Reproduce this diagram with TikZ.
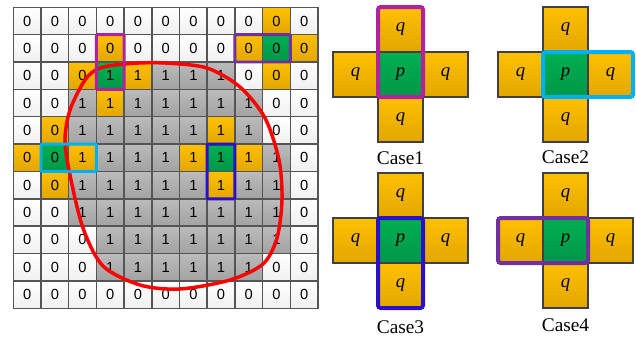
\documentclass[tikz,border=0pt]{standalone}
\usepackage{fontspec}
\setmainfont{Liberation Serif}
\newfontfamily\gridfont{Liberation Sans}
\definecolor{topw}{HTML}{FFFFFF}
\definecolor{botw}{HTML}{F0F0F0}
\definecolor{topg}{HTML}{BBBBBB}
\definecolor{botg}{HTML}{A2A2A2}
\definecolor{topo}{HTML}{FFC000}
\definecolor{boto}{HTML}{E2A600}
\definecolor{topn}{HTML}{00B050}
\definecolor{botn}{HTML}{00964A}
\definecolor{gridline}{HTML}{555555}
\definecolor{edge}{HTML}{404040}
\definecolor{casepink}{HTML}{B0229E}
\definecolor{casecyan}{HTML}{00B0F0}
\definecolor{caseblue}{HTML}{2A10C8}
\definecolor{casepurple}{HTML}{7030A0}
\definecolor{curve}{HTML}{FF0000}

% one cross of five cells: #1 name prefix, (#2,#3) centre of the p cell
\newcommand\crossat[3]{%
  \node (#1p) [crosscell, top color=topn, bottom color=botn] at (#2,#3) {p};
  \node (#1t) [crosscell] at ({#2},{#3-45}) {q};
  \node (#1b) [crosscell] at ({#2},{#3+45}) {q};
  \node (#1l) [crosscell] at ({#2-45},{#3}) {q};
  \node (#1r) [crosscell] at ({#2+45},{#3}) {q};
}

\begin{document}
\begin{tikzpicture}[x=0.75pt,y=-0.75pt,
  cell/.style={inner sep=0, outer sep=0, minimum width=20.78pt, minimum height=20.52pt,
    draw=gridline, line width=1.1pt, font=\gridfont\fontsize{11}{11}\selectfont},
  crosscell/.style={inner sep=0, outer sep=0, minimum size=33.75pt, draw=edge,
    line width=0.8pt, top color=topo, bottom color=boto,
    font=\fontsize{14}{14}\selectfont\itshape},
  gridbox/.style={line width=2.2pt, rounded corners=0.8pt},
  casebox/.style={line width=3pt, rounded corners=2pt},
  caselabel/.style={font=\fontsize{14.5}{14.5}\selectfont, inner sep=0},
]
\useasboundingbox (0,0) rectangle (636,339);

% the 11 x 11 label grid: colour code / digit
\foreach \row [count=\r from 0] in {
  {w/0,w/0,w/0,w/0,w/0,w/0,w/0,w/0,w/0,o/0,w/0},
  {w/0,w/0,w/0,o/0,w/0,w/0,w/0,w/0,o/0,n/0,o/0},
  {w/0,w/0,o/0,n/1,o/1,g/1,g/1,g/1,w/0,o/0,w/0},
  {w/0,w/0,g/1,o/1,g/1,g/1,g/1,g/1,g/1,w/0,w/0},
  {w/0,o/0,g/1,g/1,g/1,g/1,g/1,o/1,g/1,w/0,w/0},
  {o/0,n/0,o/1,g/1,g/1,g/1,o/1,n/1,o/1,g/1,w/0},
  {w/0,o/0,g/1,g/1,g/1,g/1,g/1,o/1,g/1,g/1,w/0},
  {w/0,w/0,g/1,g/1,g/1,g/1,g/1,g/1,g/1,g/1,w/0},
  {w/0,w/0,w/0,g/1,g/1,g/1,g/1,g/1,g/1,g/1,w/0},
  {w/0,w/0,w/0,g/1,g/1,g/1,g/1,g/1,g/1,w/0,w/0},
  {w/0,w/0,w/0,w/0,w/0,w/0,w/0,w/0,w/0,w/0,w/0}}
{
  \foreach \cl/\d [count=\c from 0] in \row {
    \node (c\r-\c) [cell, top color=top\cl, bottom color=bot\cl]
      at ({13.3+27.7*(\c+0.5)},{7.3+27.36*(\r+0.5)}) {\d};
  }
}

% closed red contour around the region of ones
\draw[curve, line width=2.6pt] plot[smooth cycle] coordinates {
  (85,80) (100,68) (130,63.5) (165,63) (207,68) (240,87) (265,118) (279,160)
  (282,200) (277,238) (263,264) (230,280) (180,289) (140,285) (103,266)
  (83,228) (70,175) (65,140) (70,110)};

% pairs in the grid
\draw[gridbox, casepink]   (c1-3.north west) rectangle (c2-3.south east);
\draw[gridbox, casepurple] (c1-8.north west) rectangle (c1-9.south east);
\draw[gridbox, casecyan]   (c5-1.north west) rectangle (c5-2.south east);
\draw[gridbox, caseblue]   (c5-7.north west) rectangle (c6-7.south east);

% the four neighbourhood cases
\crossat{a}{400.5}{74.5}
\crossat{b}{565.5}{74.5}
\crossat{k}{400.5}{240.5}
\crossat{d}{565.5}{240.5}

\draw[casebox, casepink]   (at.north west) rectangle (ap.south east);
\draw[casebox, casecyan]   (bp.north west) rectangle (br.south east);
\draw[casebox, caseblue]   (kp.north west) rectangle (kb.south east);
\draw[casebox, casepurple] (dl.north west) rectangle (dp.south east);

\node[caselabel] (lab1) at (400.5,158) {Case1};
\node[caselabel] (lab2) at (565.5,157) {Case2};
\node[caselabel] (lab3) at (400.5,327) {Case3};
\node[caselabel] (lab4) at (565.5,325) {Case4};
\end{tikzpicture}
\end{document}
